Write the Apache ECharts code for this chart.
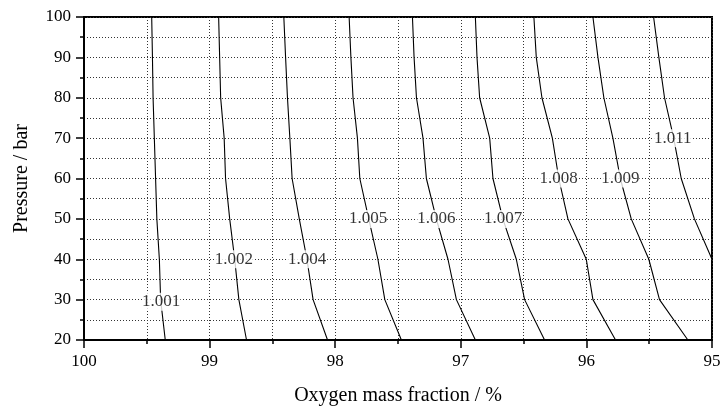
<!DOCTYPE html>
<html>
<head>
<meta charset="utf-8">
<script src="https://cdn.jsdelivr.net/npm/echarts@6/dist/echarts.min.js"></script>
<style>
  html, body { margin: 0; padding: 0; background: #fff; }
  #chart { width: 721px; height: 408px; }
</style>
</head>
<body>
<div id="chart"></div>
<script>
// Pressure levels (bar) at which each contour is sampled
const pressures = [20, 30, 40, 50, 60, 70, 80, 90, 100];

// Oxygen mass fraction (%) of each contour line at the pressure levels above
const c1001 = [99.353, 99.390, 99.400, 99.420, 99.430, 99.440, 99.450, 99.455, 99.461];
const c1002 = [98.706, 98.767, 98.800, 98.840, 98.873, 98.884, 98.912, 98.920, 98.928];
const c1004 = [98.061, 98.176, 98.225, 98.286, 98.343, 98.361, 98.380, 98.395, 98.409];
const c1005 = [97.473, 97.605, 97.660, 97.733, 97.804, 97.823, 97.858, 97.875, 97.889];
const c1006 = [96.884, 97.035, 97.102, 97.195, 97.274, 97.301, 97.353, 97.372, 97.385];
const c1007 = [96.333, 96.492, 96.558, 96.665, 96.744, 96.770, 96.850, 96.871, 96.884];
const c1008 = [95.768, 95.948, 96.001, 96.147, 96.220, 96.271, 96.354, 96.399, 96.418];
const c1009 = [95.192, 95.418, 95.503, 95.643, 95.730, 95.789, 95.861, 95.908, 95.948];
const c1011 = [null, null, 95.000, 95.140, 95.245, 95.305, 95.378, 95.423, 95.465];

const levels = ['1.001', '1.002', '1.004', '1.005', '1.006', '1.007', '1.008', '1.009', '1.011'];
const contours = [c1001, c1002, c1004, c1005, c1006, c1007, c1008, c1009, c1011];

// Where each contour carries its value label
const labelX = [99.385, 98.807, 98.224, 97.738, 97.194, 96.664, 96.221, 95.730, 95.312];
const labelP = [29.5, 40, 40, 50, 50, 50, 60, 60, 70];

const FONT = "'Liberation Serif', 'Times New Roman', serif";

const gridStyle = { type: [1, 2], color: '#333', width: 1 };

const lineSeries = contours.map((xs, i) => ({
  type: 'line',
  name: levels[i],
  data: pressures
    .map((p, j) => (xs[j] == null ? null : [xs[j], p]))
    .filter(d => d !== null),
  symbol: 'none',
  lineStyle: { color: '#000', width: 1.1 },
  silent: true,
  z: 3
}));

const labelSeries = {
  type: 'scatter',
  data: levels.map((lv, i) => ({ name: lv, value: [labelX[i], labelP[i]] })),
  symbolSize: 1,
  itemStyle: { color: 'rgba(0,0,0,0)' },
  label: {
    show: true,
    position: 'inside',
    formatter: p => p.name,
    fontFamily: FONT,
    fontSize: 17,
    color: '#000',
    backgroundColor: '#fff',
    padding: [1, 0, 0, 0]
  },
  silent: true,
  z: 5
};

const chart = echarts.init(document.getElementById('chart'), null, { renderer: 'canvas' });
chart.setOption({
  animation: false,
  backgroundColor: '#fff',
  grid: {
    left: 84, right: 9, top: 17, bottom: 68,
    containLabel: false,
    outerBoundsMode: 'none',
    show: true, borderColor: '#000', borderWidth: 2, backgroundColor: 'transparent'
  },
  xAxis: {
    type: 'value',
    inverse: true,
    min: 95, max: 100, interval: 1,
    name: 'Oxygen mass fraction / %',
    nameLocation: 'middle',
    nameGap: 46,
    nameTextStyle: { fontFamily: FONT, fontSize: 20, color: '#000' },
    axisLine: { show: true, onZero: false, lineStyle: { color: '#000', width: 2 } },
    axisTick: { show: true, inside: false, length: 8, lineStyle: { color: '#000', width: 1.5 } },
    minorTick: { show: true, splitNumber: 2, length: 4, lineStyle: { color: '#000', width: 1.5 } },
    axisLabel: { fontFamily: FONT, fontSize: 17, color: '#000', margin: 13 },
    splitLine: { show: true, lineStyle: gridStyle },
    minorSplitLine: { show: true, lineStyle: gridStyle }
  },
  yAxis: {
    type: 'value',
    min: 20, max: 100, interval: 10,
    name: 'Pressure / bar',
    nameLocation: 'middle',
    nameGap: 52,
    nameTextStyle: { fontFamily: FONT, fontSize: 20, color: '#000' },
    axisLine: { show: true, onZero: false, lineStyle: { color: '#000', width: 2 } },
    axisTick: { show: true, inside: false, length: 8, lineStyle: { color: '#000', width: 1.5 } },
    minorTick: { show: true, splitNumber: 2, length: 4, lineStyle: { color: '#000', width: 1.5 } },
    axisLabel: { fontFamily: FONT, fontSize: 17, color: '#000', margin: 13 },
    splitLine: { show: true, lineStyle: gridStyle },
    minorSplitLine: { show: true, lineStyle: gridStyle }
  },
  series: [...lineSeries, labelSeries]
});
</script>
</body>
</html>
